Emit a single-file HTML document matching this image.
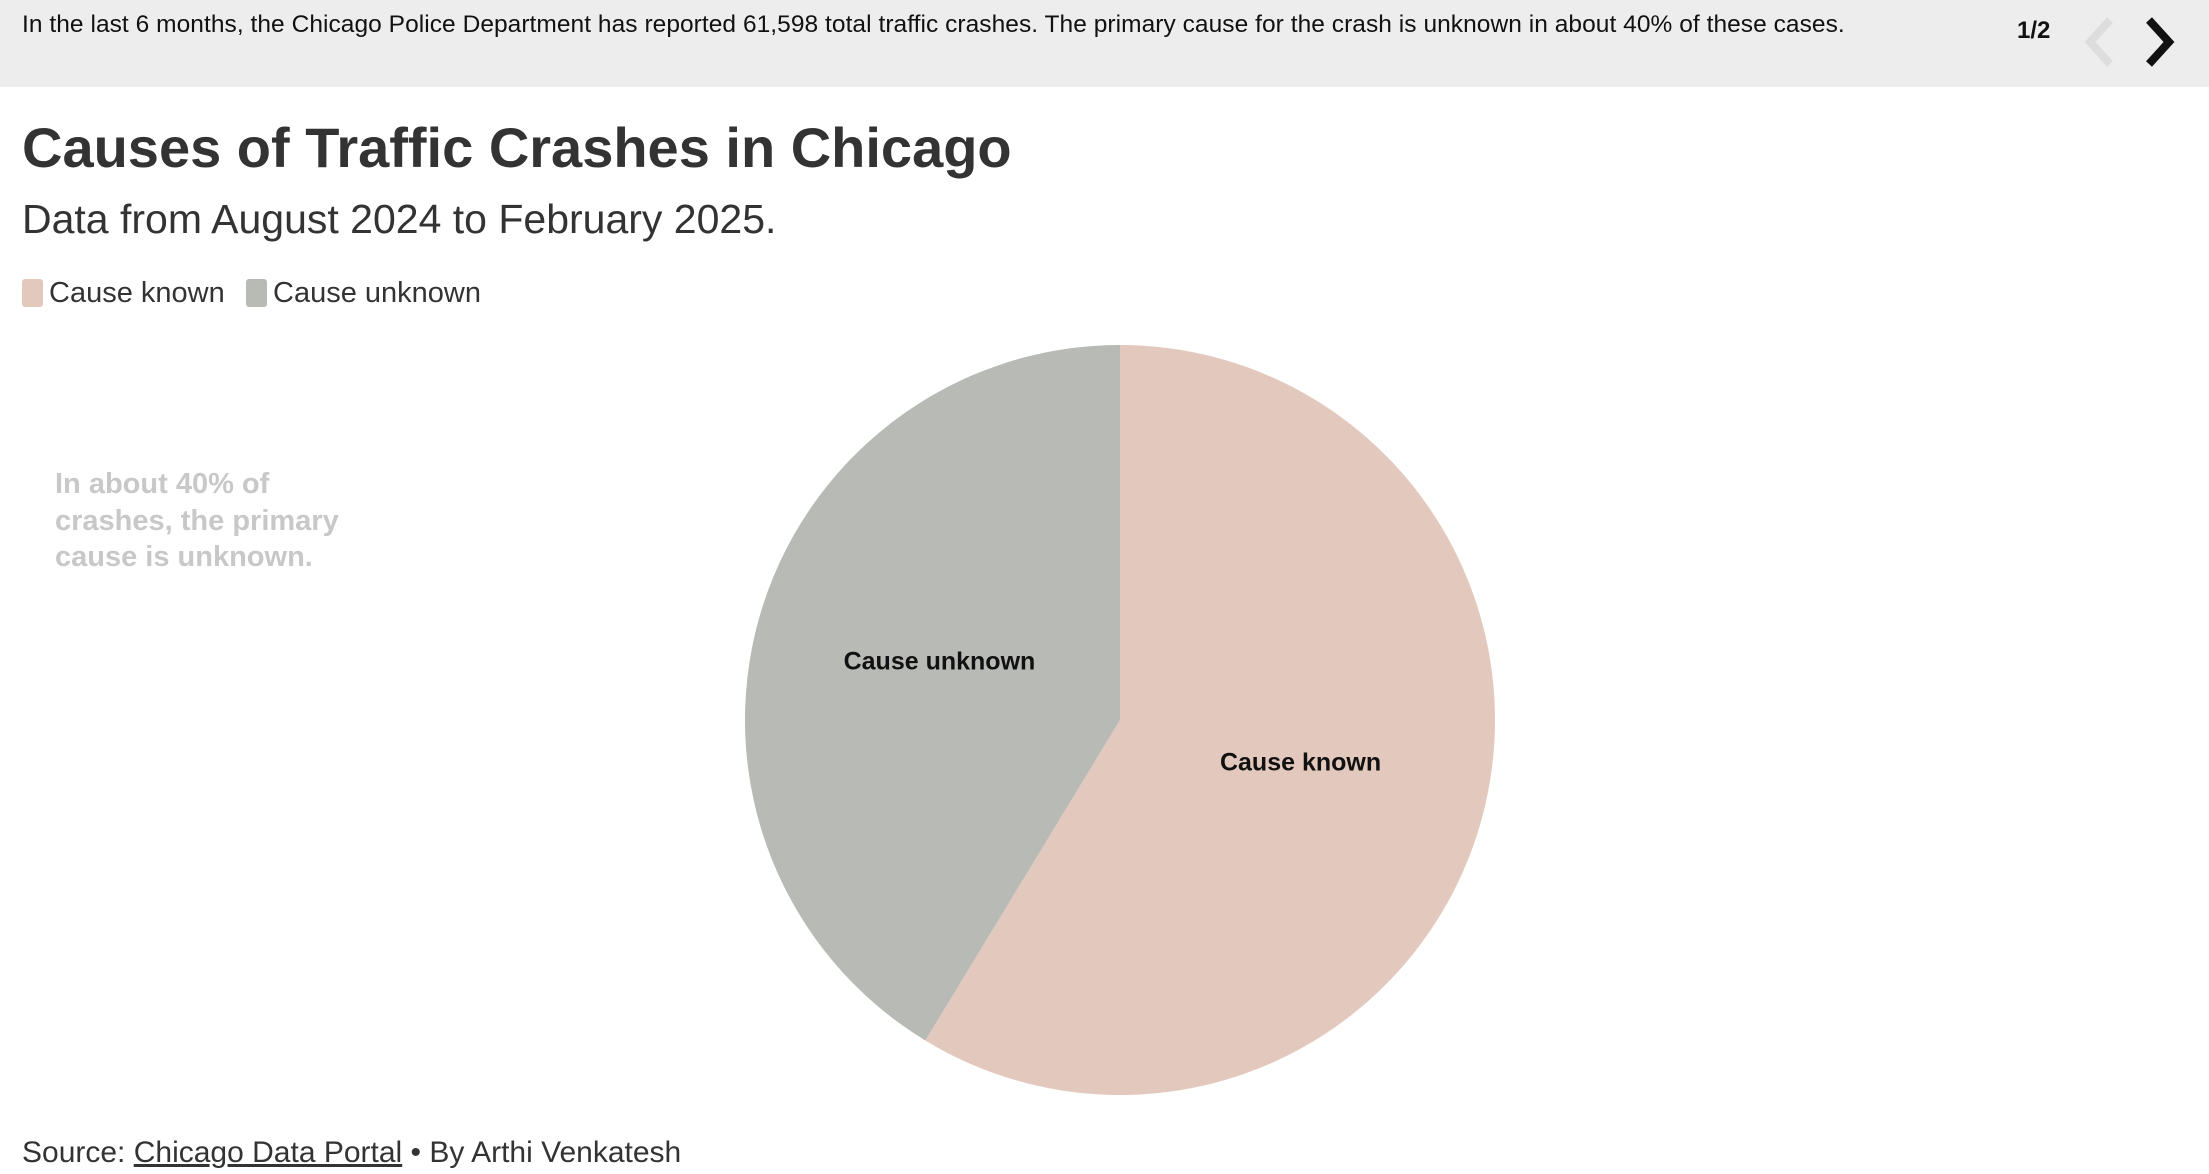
<!DOCTYPE html>
<html><head><meta charset="utf-8"><style>
body{margin:0;width:2209px;height:1174px;background:#fff;font-family:"Liberation Sans",sans-serif;position:relative;overflow:hidden;color:#333}
.a{position:absolute;white-space:nowrap}
</style></head><body>
<div class="a" style="left:0;top:0;width:2209px;height:87px;background:#ededed"></div>
<div class="a" style="left:22px;top:11px;font-size:24.5px;letter-spacing:0.05px;color:#111">In the last 6 months, the Chicago Police Department has reported 61,598 total traffic crashes. The primary cause for the crash is unknown in about 40% of these cases.</div>
<div class="a" style="left:2017px;top:17px;font-size:24px;font-weight:bold;color:#111">1/2</div>
<svg class="a" style="left:2082px;top:14px" width="34" height="56"><polyline points="28,6 8,28 28,50" fill="none" stroke="#ddd" stroke-width="8"/></svg>
<svg class="a" style="left:2143px;top:14px" width="34" height="56"><polyline points="6,6 26,28 6,50" fill="none" stroke="#111" stroke-width="8"/></svg>
<div class="a" style="left:22px;top:115px;font-size:56px;font-weight:bold;color:#333">Causes of Traffic Crashes in Chicago</div>
<div class="a" style="left:22px;top:196px;font-size:41px;color:#333">Data from August 2024 to February 2025.</div>
<div class="a" style="left:22px;top:277px;font-size:29px;color:#333"><span style="display:inline-block;width:21px;height:28px;background:#e3c9bd;border-radius:3px;vertical-align:-5px;margin-right:6px"></span>Cause known</div>
<div class="a" style="left:246px;top:277px;font-size:29px;color:#333"><span style="display:inline-block;width:21px;height:28px;background:#b8bab5;border-radius:3px;vertical-align:-5px;margin-right:6px"></span>Cause unknown</div>
<div class="a" style="left:55px;top:466px;font-size:29px;font-weight:bold;color:#c8c8c8;line-height:36.5px">In about 40% of<br>crashes, the primary<br>cause is unknown.</div>
<svg class="a" id="pie" style="left:0;top:0" width="2209" height="1174"></svg>
<div class="a" style="left:22px;top:1136px;font-size:30px;color:#333">Source: <span style="text-decoration:underline">Chicago Data Portal</span> • By Arthi Venkatesh</div>
<script>
const categories=["Cause known","Cause unknown"];
const values=[36150,25448];
const colors=["#e3c9bd","#b8bab5"];
const cx=1120,cy=720,r=375;
const svg=document.getElementById('pie');
const ns="http://www.w3.org/2000/svg";
const total=values.reduce((a,b)=>a+b,0);
let a0=0;
values.forEach((v,i)=>{
  const a1=a0+v/total*2*Math.PI;
  const p=(a)=>[cx+r*Math.sin(a),cy-r*Math.cos(a)];
  const [x0,y0]=p(a0),[x1,y1]=p(a1);
  const path=document.createElementNS(ns,'path');
  path.setAttribute('d',`M${cx},${cy}L${x0},${y0}A${r},${r} 0 ${a1-a0>Math.PI?1:0} 1 ${x1},${y1}Z`);
  path.setAttribute('fill',colors[i]);
  
  
  svg.appendChild(path);
  const m=(a0+a1)/2,lr=r*0.5;
  const t=document.createElementNS(ns,'text');
  t.setAttribute('x',cx+lr*Math.sin(m));
  t.setAttribute('y',cy-lr*Math.cos(m));
  t.setAttribute('text-anchor','middle');
  t.setAttribute('font-size','25');
  t.setAttribute('font-weight','bold');
  t.setAttribute('fill','#111');
  t.setAttribute('font-family','Liberation Sans, sans-serif');
  t.textContent=categories[i];
  
  
  svg.appendChild(t);
  a0=a1;
});
</script>
</body></html>
